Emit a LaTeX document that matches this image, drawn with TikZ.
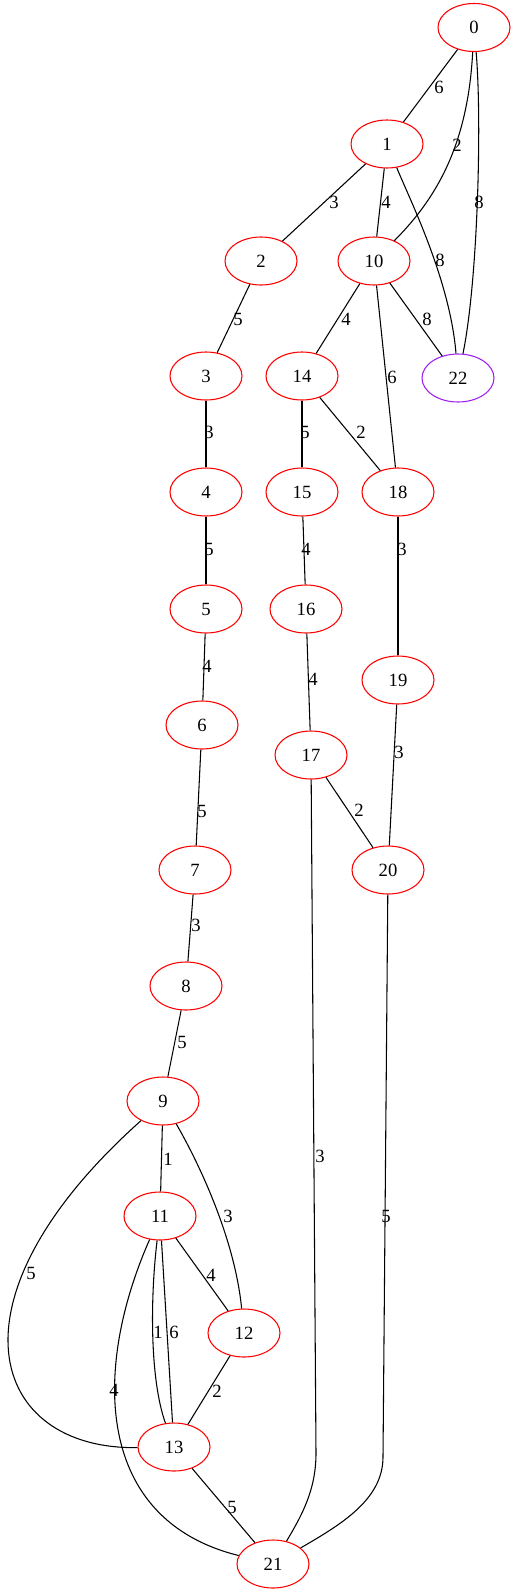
\documentclass[tikz,border=0pt]{standalone}
\usepackage{fontspec}
\setmainfont{Liberation Serif}
\usetikzlibrary{shapes.geometric}
\definecolor{gvpurple}{RGB}{160,32,240}

\begin{document}
\begin{tikzpicture}[x=0.75pt,y=-0.75pt,line width=0.8pt,
        vertex/.style={ellipse,draw=red,minimum width=54pt,minimum height=36pt,
            inner sep=0pt,font=\fontsize{14}{16}\selectfont},
        wt/.style={inner sep=0pt,font=\fontsize{14}{16}\selectfont}]
    \useasboundingbox (0,0) rectangle (516,1595);

    % vertices
    \node [vertex] (n0) at (474,27.5) {0};
    \node [vertex] (n1) at (387,144) {1};
    \node [vertex] (n2) at (261,261) {2};
    \node [vertex] (n10) at (374,261) {10};
    \node [vertex] (n3) at (206,376) {3};
    \node [vertex] (n14) at (302,376) {14};
    \node [vertex,draw=gvpurple] (n22) at (458,378) {22};
    \node [vertex] (n4) at (206,492) {4};
    \node [vertex] (n15) at (302,492) {15};
    \node [vertex] (n18) at (398,492) {18};
    \node [vertex] (n5) at (206,609) {5};
    \node [vertex] (n16) at (306,609) {16};
    \node [vertex] (n19) at (398,680) {19};
    \node [vertex] (n6) at (202,725) {6};
    \node [vertex] (n17) at (311,755) {17};
    \node [vertex] (n7) at (195,870) {7};
    \node [vertex] (n20) at (388,870) {20};
    \node [vertex] (n8) at (186,986) {8};
    \node [vertex] (n9) at (163,1101) {9};
    \node [vertex] (n11) at (160,1216) {11};
    \node [vertex] (n12) at (244,1333) {12};
    \node [vertex] (n13) at (174,1447) {13};
    \node [vertex] (n21) at (273,1564) {21};

    % edges
    \draw (n0) -- (n1);
    \draw (n0) .. controls (468,140) and (440,195) .. (n10);
    \draw (n0) .. controls (482,120) and (478,280) .. (n22);
    \draw (n1) -- (n2);
    \draw (n1) -- (n10);
    \draw (n1) .. controls (410,200) and (450,280) .. (n22);
    \draw (n10) -- (n14);
    \draw (n10) -- (n22);
    \draw (n10) -- (n18);
    \draw (n2) -- (n3);
    \draw (n3) -- (n4);
    \draw (n4) -- (n5);
    \draw (n5) -- (n6);
    \draw (n6) -- (n7);
    \draw (n7) -- (n8);
    \draw (n8) -- (n9);
    \draw (n14) -- (n15);
    \draw (n14) -- (n18);
    \draw (n15) -- (n16);
    \draw (n16) -- (n17);
    \draw (n18) -- (n19);
    \draw (n19) -- (n20);
    \draw (n17) -- (n20);
    \draw (n17) -- (316,1453) .. controls (316,1490) and (302,1515) .. (n21);
    \draw (n20) -- (383,1457) .. controls (383,1500) and (340,1525) .. (n21);
    \draw (n9) -- (n11);
    \draw (n9) .. controls (200,1165) and (235,1240) .. (n12);
    \draw (n9) .. controls (-60,1300) and (-10,1450) .. (n13);
    \draw (n11) -- (n12);
    \draw (n11) .. controls (150,1300) and (150,1380) .. (n13);
    \draw (n11) -- (n13);
    \draw (n11) .. controls (92,1370) and (95,1520) .. (n21);
    \draw (n12) -- (n13);
    \draw (n13) -- (n21);

    % weights
    \node [wt] (w0-1) at (439,87) {6};
    \node [wt] (w0-10) at (457,145) {2};
    \node [wt] (w0-22) at (479,202) {8};
    \node [wt] (w1-2) at (334,202) {3};
    \node [wt] (w1-10) at (386,202) {4};
    \node [wt] (w1-22) at (440,260) {8};
    \node [wt] (w10-14) at (346,319) {4};
    \node [wt] (w10-22) at (427,319) {8};
    \node [wt] (w10-18) at (392,377) {6};
    \node [wt] (w2-3) at (238,319) {5};
    \node [wt] (w3-4) at (209,432) {3};
    \node [wt] (w14-15) at (305,432) {5};
    \node [wt] (w14-18) at (361,432) {2};
    \node [wt] (w4-5) at (209,549) {5};
    \node [wt] (w15-16) at (306,549) {4};
    \node [wt] (w18-19) at (402,549) {3};
    \node [wt] (w5-6) at (207,666) {4};
    \node [wt] (w16-17) at (313,679) {4};
    \node [wt] (w19-20) at (399,752) {3};
    \node [wt] (w17-20) at (359,810) {2};
    \node [wt] (w6-7) at (202,811) {5};
    \node [wt] (w7-8) at (196,925) {3};
    \node [wt] (w8-9) at (182,1042) {5};
    \node [wt] (w9-11) at (168,1159) {1};
    \node [wt] (w9-12) at (228,1216) {3};
    \node [wt] (w11-12) at (211,1275) {4};
    \node [wt] (w9-13) at (31,1273) {5};
    \node [wt] (w17-21) at (320,1156) {3};
    \node [wt] (w20-21) at (386,1216) {5};
    \node [wt] (w11-13a) at (158,1332) {1};
    \node [wt] (w11-13b) at (174,1332) {6};
    \node [wt] (w11-21) at (114,1390) {4};
    \node [wt] (w12-13) at (217,1391) {2};
    \node [wt] (w13-21) at (232,1507) {5};
\end{tikzpicture}
\end{document}
